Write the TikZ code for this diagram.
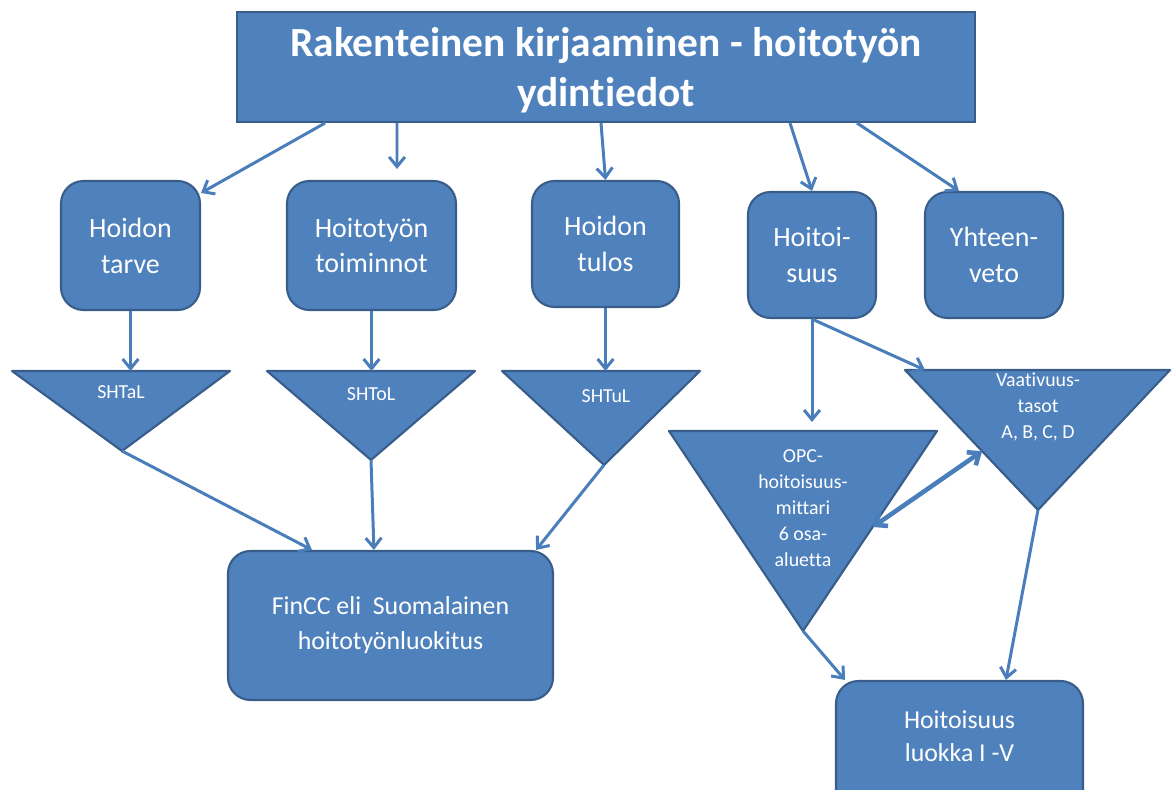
\documentclass[tikz,border=0pt]{standalone}
\usepackage{fontspec}
\setmainfont{Carlito}[Ligatures={NoCommon,NoRequired,NoContextual}]
\usepackage{tikz}
\usetikzlibrary{arrows.meta}
\definecolor{boxblue}{HTML}{4F81BD}
\definecolor{boxedge}{HTML}{385D8A}
\definecolor{arrowblue}{HTML}{4A7EBB}

\begin{document}
\begin{tikzpicture}[
  box/.style={draw=boxedge, line width=1.2pt, fill=boxblue, rounded corners=0.45cm, text=white, align=center, inner sep=0pt, font=\fontsize{15.9}{20.4}\selectfont},
  tri/.style={draw=boxedge, line width=1.2pt, fill=boxblue, line join=round},
  trilabel/.style={text=white, align=center, inner sep=0pt, font=\fontsize{11.3}{14.7}\selectfont},
  arr/.style={draw=arrowblue, line width=1.7pt, -{Straight Barb[length=5.5pt,width=9pt]}},
  dblarr/.style={draw=arrowblue, line width=2.6pt, {Straight Barb[length=5.5pt,width=9pt]}-{Straight Barb[length=5.5pt,width=9pt]}}
]
\clip (0,0) rectangle (23.52,15.78);

\node[box, rounded corners=0pt, minimum width=14.76cm, minimum height=2.2cm, text depth=0.0cm, font=\bfseries\fontsize{23.6}{28.6}\selectfont] (title) at (12.12,14.44) {Rakenteinen kirjaaminen - hoitotyön\\ydintiedot};

\node[box, minimum width=2.78cm, minimum height=2.58cm] (tarve) at (2.61,10.87) {Hoidon\\tarve};
\node[box, minimum width=3.38cm, minimum height=2.58cm] (toiminnot) at (7.43,10.87) {Hoitotyön\\toiminnot};
\node[box, minimum width=2.94cm, minimum height=2.52cm] (tulos) at (12.11,10.90) {Hoidon\\tulos};
\node[box, minimum width=2.56cm, minimum height=2.52cm] (hoitoisuus) at (16.24,10.68) {Hoitoi-\\suus};
\node[box, minimum width=2.76cm, minimum height=2.52cm] (yhteenveto) at (19.88,10.68) {Yhteen-\\veto};

\node[box, minimum width=6.5cm, minimum height=2.98cm, font=\fontsize{14.7}{19.8}\selectfont] (fincc) at (7.81,3.27) {FinCC eli~ Suomalainen\\hoitotyönluokitus};
\node[box, minimum width=4.94cm, minimum height=3.2cm, text depth=1.0cm, font=\fontsize{14.7}{18.7}\selectfont] (luokka) at (19.19,0.56) {Hoitoisuus\\luokka I -V};

\draw[tri] (0.24,8.36) coordinate (talL) -- (4.60,8.36) -- (2.44,6.76) coordinate (talapex) -- cycle;
\draw[tri] (5.34,8.36) coordinate (tolL) -- (9.50,8.36) -- (7.42,6.58) coordinate (tolapex) -- cycle;
\draw[tri] (10.04,8.36) coordinate (tulL) -- (14.00,8.36) -- (12.08,6.48) coordinate (tulapex) -- cycle;
\draw[tri] (13.38,7.16) coordinate (opcL) -- (18.74,7.16) -- coordinate[pos=0.48] (opcside) (16.06,3.16) coordinate (opcapex) -- cycle;
\draw[tri] (18.10,8.38) coordinate (vaaL) -- coordinate[pos=0.58] (vaaside) (20.76,5.58) coordinate (vaaapex) -- (23.40,8.38) -- cycle;

\node[trilabel] (shtal) at (2.42,7.94) {SHTaL};
\node[trilabel] (shtol) at (7.42,7.90) {SHToL};
\node[trilabel] (shtul) at (12.12,7.86) {SHTuL};
\node[trilabel] (opc) at (16.06,5.62) {OPC-\\hoitoisuus-\\mittari\\6 osa-\\aluetta};
\node[trilabel] (vaativuus) at (20.76,7.64) {Vaativuus-\\tasot\\A, B, C, D};

\draw[arr] ([xshift=-5.62cm]title.south) -- ([yshift=-0.26cm]tarve.north east);
\draw[arr] ([xshift=-4.18cm]title.south) -- ([xshift=0.51cm,yshift=0.22cm]toiminnot.north);
\draw[arr] ([xshift=-0.1cm]title.south) -- (tulos.north);
\draw[arr] ([xshift=3.68cm]title.south) -- (hoitoisuus.north);
\draw[arr] ([xshift=5.02cm]title.south) -- ([xshift=0.7cm]yhteenveto.north west);

\draw[arr] (tarve) -- (tarve |- talL);
\draw[arr] (toiminnot) -- (toiminnot |- tolL);
\draw[arr] (tulos) -- (tulos |- tulL);
\draw[arr, shorten >=0.18cm] (hoitoisuus) -- (hoitoisuus |- opcL);
\draw[arr] (hoitoisuus.south) -- ([xshift=0.4cm]vaaL);

\draw[arr] (talapex) -- ([xshift=1.7cm]fincc.north west);
\draw[arr] (tolapex) -- ([xshift=2.94cm]fincc.north west);
\draw[arr] (tulapex) -- ([xshift=-0.36cm]fincc.north east);

\draw[dblarr] (opcside) -- (vaaside);
\draw[arr] (opcapex) -- ([xshift=0.2cm]luokka.north west);
\draw[arr] (vaaapex) -- ([xshift=3.42cm]luokka.north west);

\end{tikzpicture}
\end{document}
